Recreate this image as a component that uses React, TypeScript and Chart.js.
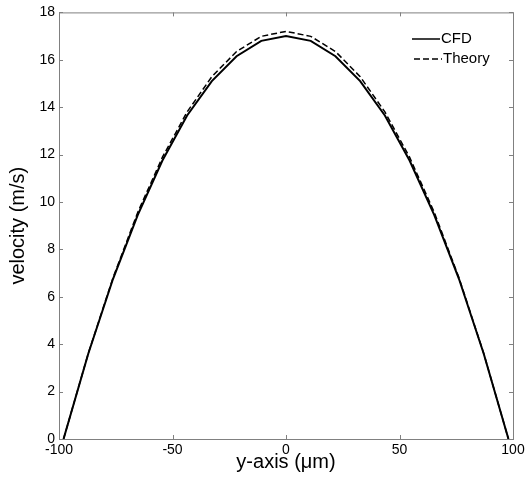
import React, { useEffect, useRef } from "react";
import { Chart, registerables } from "chart.js";

Chart.register(...registerables);

const positions = [-98, -87.11, -76.22, -65.33, -54.44, -43.56, -32.67, -21.78, -10.89, 0, 10.89, 21.78, 32.67, 43.56, 54.44, 65.33, 76.22, 87.11, 98];
const cfdVelocity = [0, 3.6, 6.75, 9.45, 11.75, 13.65, 15.1, 16.15, 16.8, 17.0, 16.8, 16.15, 15.1, 13.65, 11.75, 9.45, 6.75, 3.6, 0];
const theoryVelocity = [0, 3.61, 6.8, 9.56, 11.89, 13.8, 15.29, 16.35, 16.99, 17.2, 16.99, 16.35, 15.29, 13.8, 11.89, 9.56, 6.8, 3.61, 0];
const xTicks = [-100, -50, 0, 50, 100];
const yTicks = [0, 2, 4, 6, 8, 10, 12, 14, 16, 18];
const seriesNames = ["CFD", "Theory"];

const FONT = "'Liberation Sans', Arial, sans-serif";
const FRAME = "#808080";

const framePlugin = {
  id: "matlabFrame",
  afterDraw(chart: any) {
    const { ctx, chartArea } = chart;
    const { left, right, top, bottom } = chartArea;
    const xs = chart.scales.x;
    const ys = chart.scales.y;
    ctx.save();
    ctx.strokeStyle = FRAME;
    ctx.lineWidth = 1;
    ctx.strokeRect(left + 0.5, top + 0.5, right - left, bottom - top);
    const L = 4;
    ctx.beginPath();
    for (const v of xTicks) {
      const px = Math.round(xs.getPixelForValue(v)) + 0.5;
      ctx.moveTo(px, bottom);
      ctx.lineTo(px, bottom - L);
      ctx.moveTo(px, top);
      ctx.lineTo(px, top + L);
    }
    for (const v of yTicks) {
      const py = Math.round(ys.getPixelForValue(v)) + 0.5;
      ctx.moveTo(left, py);
      ctx.lineTo(left + L, py);
      ctx.moveTo(right, py);
      ctx.lineTo(right - L, py);
    }
    ctx.stroke();

    // legend
    ctx.font = `15px ${FONT}`;
    ctx.fillStyle = "#000";
    ctx.textBaseline = "middle";
    ctx.strokeStyle = "#000";
    ctx.lineWidth = 1.5;
    ctx.beginPath();
    ctx.moveTo(412, 39);
    ctx.lineTo(440, 39);
    ctx.stroke();
    ctx.fillText(seriesNames[0], 441, 39);
    ctx.setLineDash([6, 3]);
    ctx.beginPath();
    ctx.moveTo(414, 59);
    ctx.lineTo(442, 59);
    ctx.stroke();
    ctx.setLineDash([]);
    ctx.fillText(seriesNames[1], 443, 59);
    ctx.restore();
  },
};

export default function App() {
  const ref = useRef<HTMLCanvasElement>(null);
  useEffect(() => {
    if (!ref.current) return;
    const chart = new Chart(ref.current, {
      type: "line",
      data: {
        datasets: [
          {
            label: seriesNames[0],
            data: positions.map((x, i) => ({ x, y: cfdVelocity[i] })),
            borderColor: "#000",
            borderWidth: 2,
            pointRadius: 0,
            fill: false,
            tension: 0,
          },
          {
            label: seriesNames[1],
            data: positions.map((x, i) => ({ x, y: theoryVelocity[i] })),
            borderColor: "#000",
            borderWidth: 1.5,
            borderDash: [6, 3],
            pointRadius: 0,
            fill: false,
            tension: 0,
          },
        ],
      },
      options: {
        responsive: false,
        animation: false,
        layout: { padding: { top: 12, right: 15, left: 0, bottom: 0 } },
        plugins: { legend: { display: false }, tooltip: { enabled: false } },
        scales: {
          x: {
            type: "linear",
            min: -100,
            max: 100,
            afterBuildTicks: (s: any) => {
              s.ticks = xTicks.map((v) => ({ value: v }));
            },
            afterFit: (s: any) => {
              s.height = 43;
            },
            grid: { display: false, drawTicks: false },
            border: { display: false },
            ticks: { color: "#000", font: { family: FONT, size: 14 }, padding: 3, maxRotation: 0 },
            title: {
              display: true,
              text: "y-axis (μm)",
              color: "#000",
              font: { family: FONT, size: 20 },
              padding: { top: 0, bottom: 8 },
            },
          },
          y: {
            type: "linear",
            min: 0,
            max: 18,
            afterBuildTicks: (s: any) => {
              s.ticks = yTicks.map((v) => ({ value: v }));
            },
            afterFit: (s: any) => {
              s.width = 59;
            },
            grid: { display: false, drawTicks: false },
            border: { display: false },
            ticks: { color: "#000", font: { family: FONT, size: 14 }, padding: 4 },
            title: {
              display: true,
              text: "velocity (m/s)",
              color: "#000",
              font: { family: FONT, size: 20 },
              padding: { top: 6, bottom: 0 },
            },
          },
        },
      },
      plugins: [framePlugin],
    });
    return () => chart.destroy();
  }, []);
  return (
    <div style={{ position: "fixed", left: 0, top: 0, width: 528, height: 482, background: "#fff" }}>
      <canvas ref={ref} width={528} height={482} style={{ width: 528, height: 482 }} />
    </div>
  );
}
